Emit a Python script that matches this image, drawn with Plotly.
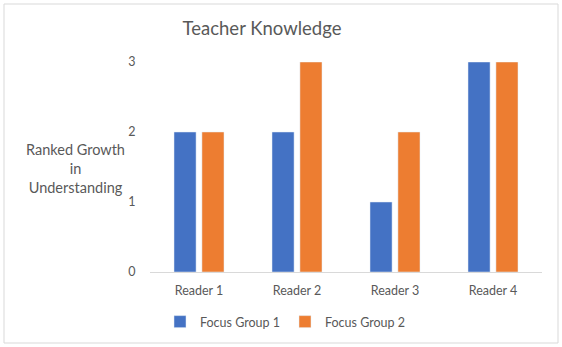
import plotly.graph_objects as go

categories = ["Reader 1", "Reader 2", "Reader 3", "Reader 4"]
group1 = [2, 2, 1, 3]
group2 = [2, 3, 2, 3]
series_names = ["Focus Group 1", "Focus Group 2"]
y_ticks = [0, 1, 2, 3]

W, H = 562, 347
L, R, T, B = 150, 20, 62, 75
pw = W - L - R
ph = H - T - B

def px_x(p):
    return (p - L) / pw

def px_y(p):
    return (H - B - p) / ph

font = "Lato, 'Open Sans', sans-serif"
grey = "#595959"

fig = go.Figure()
fig.add_trace(go.Bar(x=categories, y=group1, name=series_names[0], marker_color="#4472C4"))
fig.add_trace(go.Bar(x=categories, y=group2, name=series_names[1], marker_color="#ED7D31"))

fig.update_layout(
    width=W, height=H,
    margin=dict(l=L, r=R, t=T, b=B, autoexpand=False),
    paper_bgcolor="white", plot_bgcolor="white",
    barmode="group", bargap=0.43, bargroupgap=0.21,
    font=dict(family=font, color=grey, size=12),
    title=dict(text="Teacher Knowledge", x=262 / W, xanchor="center", y=1 - 29 / H, yanchor="middle",
               font=dict(size=18.5, color=grey, family=font)),
    showlegend=True,
    legend=dict(orientation="h", x=px_x(285), xanchor="center", y=px_y(322), yanchor="middle",
                font=dict(size=12.5, color=grey), itemwidth=30, traceorder="normal"),
    xaxis=dict(showgrid=False, showline=True, linecolor="#d9d9d9", linewidth=1,
               tickfont=dict(size=12.5, color=grey), ticks="outside", ticklen=7, tickcolor="rgba(0,0,0,0)"),
    yaxis=dict(range=[0, 3], tickvals=y_ticks, showgrid=False, zeroline=False, showline=False,
               tickfont=dict(size=12.5, color=grey), ticks="outside", ticklen=11, tickcolor="rgba(0,0,0,0)"),
)

fig.add_annotation(text="Ranked Growth<br>in<br>Understanding", xref="paper", yref="paper",
                   x=px_x(75), y=px_y(168), xanchor="center", yanchor="middle", showarrow=False,
                   font=dict(size=14.5, color=grey, family=font))

fig.add_shape(type="rect", xref="paper", yref="paper",
              x0=px_x(4), x1=px_x(558), y0=px_y(343), y1=px_y(4),
              line=dict(color="#d9d9d9", width=1), fillcolor="rgba(0,0,0,0)", layer="below")

fig.write_html("out.html", config={"displayModeBar": False},
               post_script="document.body.style.margin='0';document.body.style.overflow='hidden';")
